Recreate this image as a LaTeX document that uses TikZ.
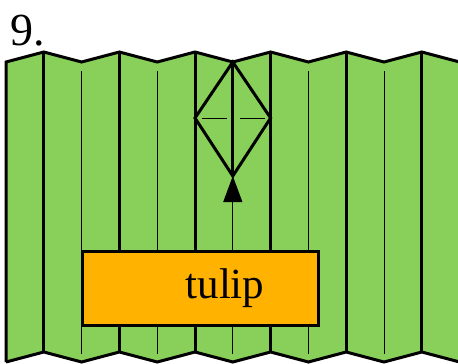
\documentclass[tikz,border=0pt]{standalone}
\usepackage{fontspec}
\setmainfont{Liberation Serif}
\usetikzlibrary{arrows.meta,positioning,calc}
\definecolor{leafGreen}{RGB}{136,208,90}
\definecolor{tulipOrange}{RGB}{255,178,0}
\tikzset{
  sheet/.style={fill=leafGreen, draw=black, line width=3pt, line join=miter},
  valley/.style={draw=black, line width=3pt},
  mountain/.style={draw=black, line width=1pt},
  crease/.style={draw=black, line width=3pt, line join=miter},
  pushup/.style={-{Triangle[length=26pt, width=19pt]}, line width=1pt},
  tulipbox/.style={draw=black, fill=tulipOrange, line width=3pt, minimum width=236pt,
                   minimum height=74pt, inner sep=0pt, font=\fontsize{43}{43}\selectfont},
  stepno/.style={font=\fontsize{46}{46}\selectfont, inner sep=0pt}
}
\begin{document}
\begin{tikzpicture}[x=1pt, y=-1pt]
\useasboundingbox (0,0) rectangle (458,364);
\clip (0,0) rectangle (458,364);
% the pleated sheet
\fill[leafGreen] (6,62)
  \foreach \k in {1,...,12} { -- ({6+37.8*\k},{mod(\k,2)==1 ? 52 : 62}) }
  -- (459.6,362)
  \foreach \k in {11,...,0} { -- ({6+37.8*\k},{mod(\k,2)==1 ? 352 : 362}) } -- cycle;
\draw[crease] (6,362) -- (6,62)
  \foreach \k in {1,...,12} { -- ({6+37.8*\k},{mod(\k,2)==1 ? 52 : 62}) };
\draw[crease] (6,362)
  \foreach \k in {1,...,12} { -- ({6+37.8*\k},{mod(\k,2)==1 ? 352 : 362}) };
\foreach \k in {1,3,...,11}
  \draw[valley] ({6+37.8*\k},52) -- ({6+37.8*\k},352);
\foreach \k in {2,4,8,10}
  \draw[mountain] ({6+37.8*\k},71) -- ({6+37.8*\k},354);
% squash fold
\coordinate (dtop) at (232.8,62);
\coordinate (dleft) at (195,118);
\coordinate (dright) at (270.6,118);
\coordinate (dbot) at (232.8,176);
\coordinate (push) at (232.8,354);
\draw[crease] (dtop) -- (dleft) -- (dbot) -- (dright) -- cycle;
\draw[valley] (dtop) -- (dbot);
\draw[mountain] ($(dleft)+(7,0)$) -- ($(dleft)+(32,0)$);
\draw[mountain] ($(dright)+(-31,0)$) -- ($(dright)+(-6,0)$);
\draw[pushup] (push) -- (dbot);
\node[tulipbox] (tulip) at (200,288) {\hspace*{50pt}tulip};
\node[stepno, anchor=base west] (step9) at (10,45) {9.};
\end{tikzpicture}
\end{document}
